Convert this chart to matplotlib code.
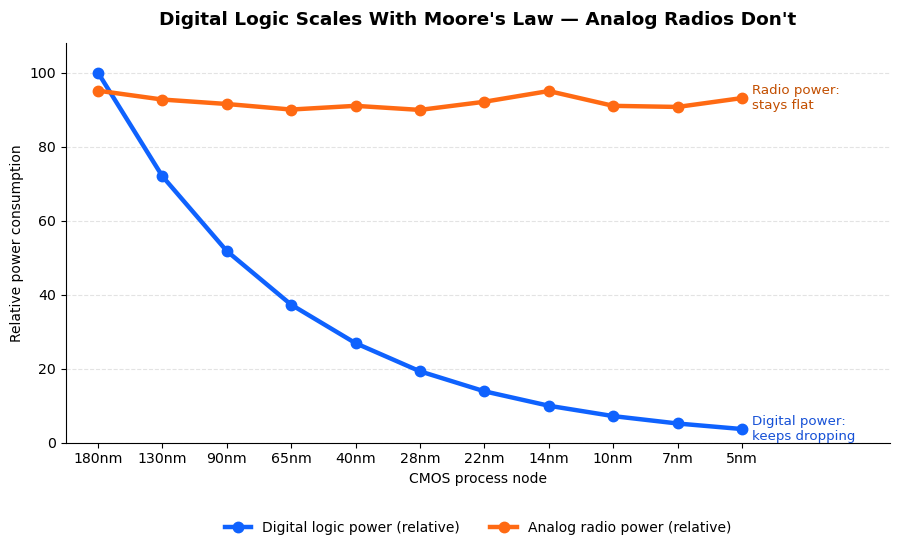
import matplotlib
matplotlib.use("Agg")
import matplotlib.pyplot as plt
import numpy as np

# =========================
# DATA
# =========================
NODES = ["180nm", "130nm", "90nm", "65nm", "40nm", "28nm",
         "22nm", "14nm", "10nm", "7nm", "5nm"]
DIGITAL_POWER = [100, 72, 51.8, 37.3, 26.9, 19.3, 13.9, 10.0, 7.2, 5.2, 3.7]
ANALOG_POWER = [95.1, 92.7, 91.5, 90.0, 91.0, 89.9, 92.1, 95.0, 91.0, 90.7, 93.1]

BLUE = "#0F62FE"
ORANGE = "#FF6A13"

x = np.arange(len(NODES))

fig = plt.figure(figsize=(9, 5.5), dpi=100)
ax = fig.add_axes([0.073, 0.195, 0.916, 0.727])

ax.plot(x, DIGITAL_POWER, color=BLUE, lw=3.2, marker="o", ms=7.5,
        label="Digital logic power (relative)")
ax.plot(x, ANALOG_POWER, color=ORANGE, lw=3.2, marker="o", ms=7.5,
        label="Analog radio power (relative)")

ax.annotate("Radio power:\nstays flat", (x[-1], ANALOG_POWER[-1]),
            xytext=(7, 0), textcoords="offset points", va="center",
            ha="left", color="#C24E00", fontsize=9.6)
ax.annotate("Digital power:\nkeeps dropping", (x[-1], DIGITAL_POWER[-1]),
            xytext=(7, 0), textcoords="offset points", va="center",
            ha="left", color="#1550D6", fontsize=9.6)

ax.set_xticks(x)
ax.set_xticklabels(NODES, fontsize=10.2)
ax.tick_params(axis="y", labelsize=10.2)
ax.set_xlim(-0.5, 12.3)
ax.set_ylim(0, 108)
ax.set_xlabel("CMOS process node", fontsize=10)
ax.set_ylabel("Relative power consumption", fontsize=10)
ax.set_title("Digital Logic Scales With Moore's Law \u2014 Analog Radios Don't",
             fontsize=13.3, fontweight="bold", pad=13)
ax.grid(axis="y", linestyle="--", color="#dddddd", alpha=0.8)
ax.set_axisbelow(True)
ax.spines["top"].set_visible(False)
ax.spines["right"].set_visible(False)

ax.legend(loc="upper center", bbox_to_anchor=(0.5, -0.165), ncol=2,
          frameon=False, fontsize=10, handlelength=1.9, columnspacing=2.2)

fig.savefig("out.png", dpi=100)
